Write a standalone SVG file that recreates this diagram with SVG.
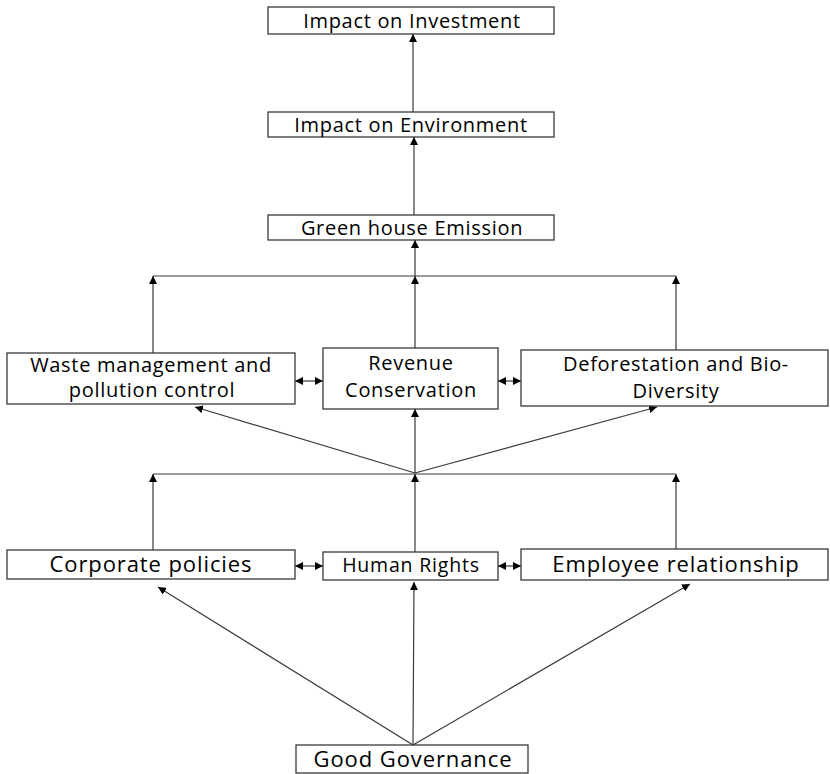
<svg xmlns="http://www.w3.org/2000/svg" width="830" height="774" viewBox="0 0 830 774">
  <style>
    .box { fill: #ffffff; stroke: #3a3a3a; stroke-width: 1.3; }
    .lbl { font-family: "Open Sans", "Noto Sans", sans-serif; fill: #000000; text-anchor: middle; font-size: 20px; letter-spacing: 0.7px; }
    .big { font-size: 22px; letter-spacing: 0.9px; }
    .mid { font-size: 19.5px; letter-spacing: 0.8px; }
    .link { fill: none; stroke: #3a3a3a; stroke-width: 1.2; }
    .arr { marker-end: url(#head); }
    .dbl { marker-start: url(#head); marker-end: url(#head); }
  </style>
  <defs>
    <marker id="head" viewBox="0 0 10 10" refX="10" refY="5" markerWidth="8" markerHeight="8" markerUnits="userSpaceOnUse" orient="auto-start-reverse">
      <path d="M0,0 L10,5 L0,10 z" fill="#000000"/>
    </marker>
  </defs>
  <rect width="830" height="774" fill="#ffffff"/>

  <g id="connectors">
    <!-- upper chain -->
    <line class="link arr" x1="413" y1="112" x2="413" y2="34"/>
    <line class="link arr" x1="414" y1="215" x2="414" y2="137"/>
    <line class="link arr" x1="415" y1="276" x2="415" y2="240"/>
    <line class="link arr" x1="415" y1="348" x2="415" y2="276"/>
    <line class="link" x1="153" y1="276" x2="676" y2="276"/>
    <line class="link arr" x1="153" y1="353" x2="153" y2="276"/>
    <line class="link arr" x1="676" y1="350" x2="676" y2="276"/>
    <!-- middle row side links -->
    <line class="link dbl" x1="295" y1="381" x2="323" y2="381"/>
    <line class="link dbl" x1="498" y1="381" x2="521" y2="381"/>
    <!-- fan-out to middle row -->
    <line class="link arr" x1="415" y1="473" x2="195" y2="407"/>
    <line class="link arr" x1="415" y1="473" x2="415" y2="409"/>
    <line class="link arr" x1="415" y1="473" x2="657" y2="407"/>
    <line class="link" x1="153" y1="474" x2="676" y2="474"/>
    <line class="link arr" x1="153" y1="550" x2="153" y2="474"/>
    <line class="link arr" x1="415" y1="552" x2="415" y2="474"/>
    <line class="link arr" x1="676" y1="549" x2="676" y2="474"/>
    <!-- lower row side links -->
    <line class="link dbl" x1="295" y1="566" x2="323" y2="566"/>
    <line class="link dbl" x1="498" y1="566" x2="521" y2="566"/>
    <!-- governance fan -->
    <line class="link arr" x1="413" y1="745" x2="158" y2="587"/>
    <line class="link arr" x1="413" y1="745" x2="414" y2="582"/>
    <line class="link arr" x1="413" y1="745" x2="690" y2="584"/>
  </g>

  <g id="impact-investment">
    <rect class="box" x="268" y="7" width="286" height="27"/>
    <text class="lbl" x="412" y="28">Impact on Investment</text>
  </g>
  <g id="impact-environment">
    <rect class="box" x="268" y="112" width="286" height="25"/>
    <text class="lbl" x="411" y="132">Impact on Environment</text>
  </g>
  <g id="greenhouse-emission">
    <rect class="box" x="268" y="215" width="286" height="25"/>
    <text class="lbl" x="412" y="235">Green house Emission</text>
  </g>
  <g id="waste-management">
    <rect class="box" x="7" y="353" width="288" height="51"/>
    <text class="lbl" x="151" y="372">Waste management and</text>
    <text class="lbl" x="152" y="397">pollution control</text>
  </g>
  <g id="revenue-conservation">
    <rect class="box" x="323" y="348" width="175" height="61"/>
    <text class="lbl" x="411" y="370">Revenue</text>
    <text class="lbl" x="411" y="397">Conservation</text>
  </g>
  <g id="deforestation">
    <rect class="box" x="521" y="350" width="307" height="56"/>
    <text class="lbl" x="676" y="371">Deforestation and Bio-</text>
    <text class="lbl" x="676" y="398">Diversity</text>
  </g>
  <g id="corporate-policies">
    <rect class="box" x="7" y="550" width="288" height="29"/>
    <text class="lbl big" x="151" y="572">Corporate policies</text>
  </g>
  <g id="human-rights">
    <rect class="box" x="323" y="552" width="175" height="28"/>
    <text class="lbl mid" x="411" y="572">Human Rights</text>
  </g>
  <g id="employee-relationship">
    <rect class="box" x="521" y="549" width="307" height="31"/>
    <text class="lbl big" x="676" y="572">Employee relationship</text>
  </g>
  <g id="good-governance">
    <rect class="box" x="296" y="745" width="232" height="28"/>
    <text class="lbl big" x="413" y="767">Good Governance</text>
  </g>
</svg>
